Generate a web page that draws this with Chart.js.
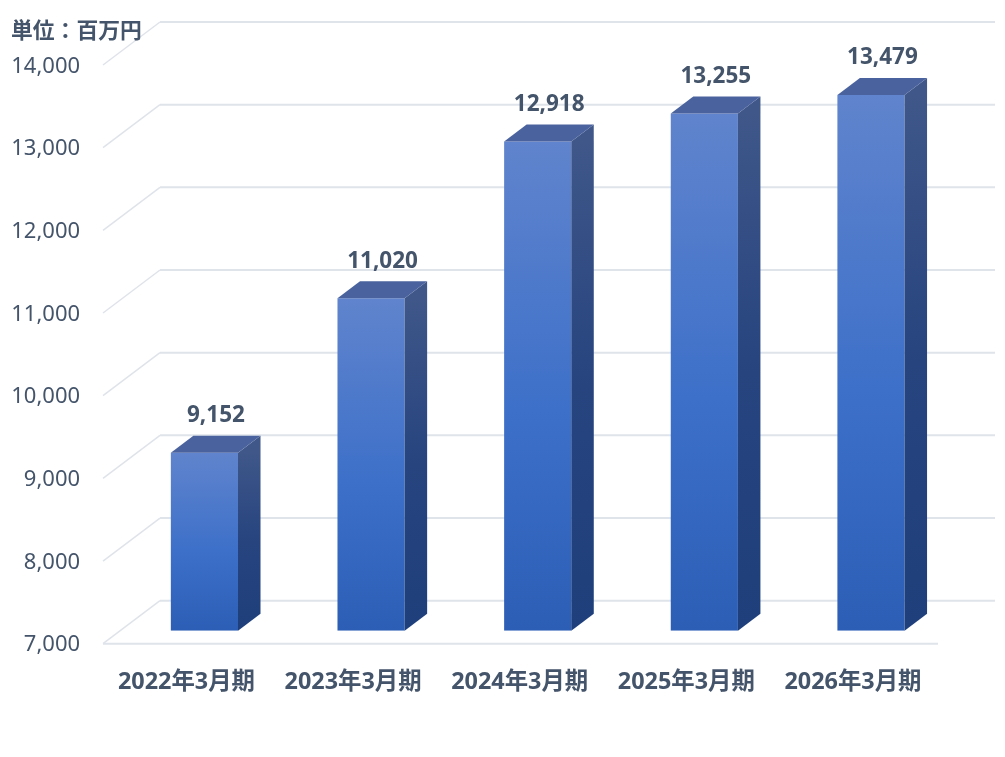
<!DOCTYPE html>
<html>
<head>
<meta charset="utf-8">
<style>
  body { margin: 0; background: #fff; }
  canvas { display: block; }
</style>
<script src="https://cdn.jsdelivr.net/npm/chart.js@4"></script>
</head>
<body>
<canvas id="myChart" width="1005" height="757"></canvas>
<script>
var categories = ["2022年3月期", "2023年3月期", "2024年3月期", "2025年3月期", "2026年3月期"];
var salesValues = [9152, 11020, 12918, 13255, 13479];
var yMin = 7000;
var yMax = 14000;
var yStep = 1000;
var unitLabel = "単位：百万円";

var textColor = "#44546a";
var gridColor = "#dfe3ea";
var fontFamily = '"Noto Sans", "Noto Sans CJK JP", sans-serif';

// how far the 3D planes sit from the plane of the bar fronts
var depthX = 22.5;
var depthY = 17;
var wallDY = -30;
var frontDY = 13;
var wallLeft = 160;
var frontLeft = 103;
var wallRight = 995;
var frontRight = 938;

function formatNum(v) {
  return v.toLocaleString("en-US");
}

function vGradient(ctx, y0, y1, stops) {
  var g = ctx.createLinearGradient(0, y0, 0, y1);
  stops.forEach(function (s) { g.addColorStop(s[0], s[1]); });
  return g;
}

function frontColor(context) {
  var chart = context.chart;
  if (!chart.chartArea || context.dataIndex === undefined) return "#3f70cb";
  var top = chart.scales.y.getPixelForValue(salesValues[context.dataIndex]);
  var bottom = chart.scales.y.getPixelForValue(yMin);
  if (!isFinite(top) || !isFinite(bottom)) return "#3f70cb";
  return vGradient(chart.ctx, top, bottom, [[0, "#6084cd"], [0.55, "#3d70c9"], [1, "#2c5eb6"]]);
}

var wallPlugin = {
  id: "wall",
  beforeDatasetsDraw: function (chart) {
    var ctx = chart.ctx;
    var y = chart.scales.y;
    ctx.save();
    ctx.strokeStyle = gridColor;
    y.ticks.forEach(function (t) {
      var py = y.getPixelForValue(t.value);
      ctx.lineWidth = 2;
      ctx.beginPath();
      ctx.moveTo(wallRight, py + wallDY);
      ctx.lineTo(wallLeft, py + wallDY);
      ctx.stroke();
      ctx.lineWidth = 1.5;
      ctx.beginPath();
      ctx.moveTo(wallLeft, py + wallDY);
      ctx.lineTo(frontLeft, py + frontDY);
      ctx.stroke();
    });
    var floorY = y.getPixelForValue(yMin) + frontDY;
    ctx.lineWidth = 2;
    ctx.beginPath();
    ctx.moveTo(frontLeft, floorY);
    ctx.lineTo(frontRight, floorY);
    ctx.stroke();
    ctx.restore();
  }
};

var barSidesPlugin = {
  id: "barSides",
  afterDatasetsDraw: function (chart) {
    var ctx = chart.ctx;
    var bars = chart.getDatasetMeta(0).data;
    var bottom = chart.scales.y.getPixelForValue(yMin);
    ctx.save();
    bars.forEach(function (bar, i) {
      var right = bar.x + bar.width / 2;
      var left = bar.x - bar.width / 2;
      var top = bar.y;

      // right side
      ctx.fillStyle = vGradient(ctx, top, bottom, [[0, "#3f5789"], [0.5, "#27447f"], [1, "#1e3f7b"]]);
      ctx.beginPath();
      ctx.moveTo(right, top);
      ctx.lineTo(right + depthX, top - depthY);
      ctx.lineTo(right + depthX, bottom - depthY);
      ctx.lineTo(right, bottom);
      ctx.closePath();
      ctx.fill();

      // top
      ctx.fillStyle = "#4a639e";
      ctx.beginPath();
      ctx.moveTo(left, top);
      ctx.lineTo(left + depthX, top - depthY);
      ctx.lineTo(right + depthX, top - depthY);
      ctx.lineTo(right, top);
      ctx.closePath();
      ctx.fill();

      // value label
      ctx.fillStyle = textColor;
      ctx.font = "bold 22.5px " + fontFamily;
      ctx.textAlign = "center";
      ctx.textBaseline = "middle";
      ctx.fillText(formatNum(salesValues[i]), bar.x + 11.5, top - 37);
    });

    ctx.fillStyle = textColor;
    ctx.font = "bold 21.8px " + fontFamily;
    ctx.textAlign = "left";
    ctx.textBaseline = "middle";
    ctx.fillText(unitLabel, 11, 32);
    ctx.restore();
  }
};

new Chart("myChart", {
  type: "bar",
  data: {
    labels: categories,
    datasets: [{
      data: salesValues,
      base: yMin,
      backgroundColor: frontColor,
      borderWidth: 0,
      barPercentage: 0.403,
      categoryPercentage: 1
    }]
  },
  plugins: [wallPlugin, barSidesPlugin],
  options: {
    responsive: false,
    animation: false,
    devicePixelRatio: 1,
    layout: { padding: { top: 52, right: 50.7, left: 0, bottom: 0 } },
    plugins: {
      legend: { display: false },
      title: { display: false },
      tooltip: { enabled: false }
    },
    scales: {
      x: {
        grid: { display: false },
        border: { display: false },
        afterFit: function (scale) {
          scale.height = 126.3;
          scale.paddingLeft = 0;
          scale.paddingRight = 0;
        },
        ticks: {
          color: textColor,
          font: { family: fontFamily, size: 23.4, weight: "bold" },
          labelOffset: -18,
          padding: 30,
          autoSkip: false,
          maxRotation: 0
        }
      },
      y: {
        min: yMin,
        max: yMax,
        grid: { display: false },
        border: { display: false },
        afterFit: function (scale) {
          scale.width = 121.1;
          scale.paddingTop = 0;
          scale.paddingBottom = 0;
        },
        ticks: {
          stepSize: yStep,
          color: textColor,
          font: { family: fontFamily, size: 22 },
          labelOffset: 14.5,
          padding: 33,
          callback: function (v) { return formatNum(v); }
        }
      }
    }
  }
});
</script>
</body>
</html>
